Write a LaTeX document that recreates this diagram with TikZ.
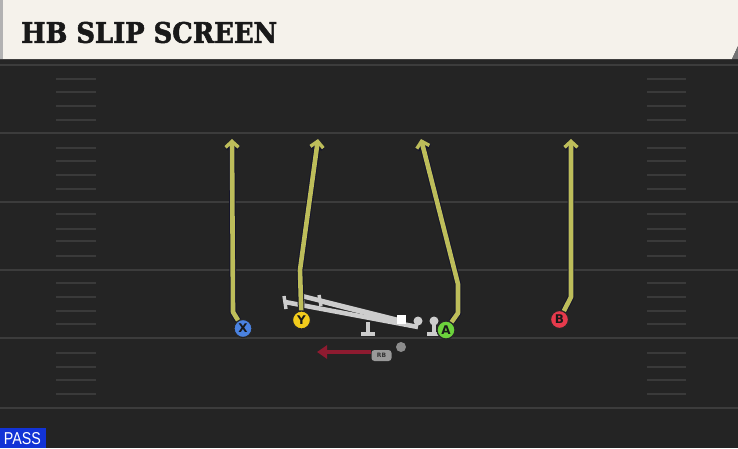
\documentclass[tikz,border=0pt]{standalone}
\usepackage{fontspec}
\setmainfont{DejaVu Serif}
\newfontfamily\titlefont[FakeBold=2]{DejaVu Serif Bold}
\newfontfamily\plfont{DejaVu Sans}
\newfontfamily\passfont{Liberation Sans}
\usetikzlibrary{arrows.meta}
\definecolor{field}{HTML}{242424}
\definecolor{yardline}{HTML}{3C3C3C}
\definecolor{hashc}{HTML}{3A3A3A}
\definecolor{cream}{HTML}{F5F2EB}
\definecolor{routec}{HTML}{BDBD5A}
\definecolor{routeo}{HTML}{15152A}
\definecolor{xblue}{HTML}{4A82E0}
\definecolor{yyel}{HTML}{F2CC1C}
\definecolor{agreen}{HTML}{6CD23C}
\definecolor{bred}{HTML}{E63A4C}
\definecolor{olgray}{HTML}{CDCDCD}
\definecolor{rbred}{HTML}{8E1B30}
\definecolor{passblue}{HTML}{1233D6}
\tikzset{
  player/.style={circle,draw=black!85,line width=1.2pt,minimum size=18pt,inner sep=0pt,font=\plfont\bfseries\fontsize{12}{12}\selectfont,text=black!90},
  route/.style={routec,line width=4.6pt,line join=round,
    -{Straight Barb[length=6pt,width=13pt,line width=3.4pt]},
    preaction={draw=routeo,line width=6.6pt,-{Straight Barb[length=6pt,width=13pt,line width=5.2pt]}}},
  yard/.style={yardline,line width=2pt},
  hashm/.style={hashc,line width=1.6pt},
  ol/.style={olgray,line width=4.6pt,line cap=butt},
  olt/.style={olgray,line width=3.4pt},
}
\begin{document}
\begin{tikzpicture}[x=1pt,y=-1pt]
\useasboundingbox (0,0) rectangle (738,448);
\fill[field] (0,0) rectangle (738,448);
% header
\fill[black!85] (0,59) rectangle (738,64);
\draw[yardline,line width=1.5pt] (0,65) -- (738,65);
\fill[cream] (0,0) -- (738,0) -- (738,46) -- (732,59) -- (0,59) -- cycle;
\fill[black!55] (738,46) -- (738,59) -- (732,59) -- cycle;
\fill[black!30] (0,0) rectangle (3,59);
\node[anchor=west,inner sep=0pt,text=black!90] (title) at (21,32.5) {\resizebox{256pt}{21pt}{\titlefont HB SLIP SCREEN}};
% yard lines
\foreach \yy in {133,202,270,338,408} \draw[yard] (0,\yy) -- (738,\yy);
% hash marks
\foreach \yy in {79,92,106,120,148,161,175,189,214,229,241,256,283,297,311,324,353,367,380,394}{
  \draw[hashm] (56,\yy) -- (96,\yy);
  \draw[hashm] (647,\yy) -- (686,\yy);
}
% offensive line (skewed)
\draw[ol] (285,302) -- (418,327);
\draw[ol] (302,296) -- (402,321);
\draw[ol] (320,301) -- (386,318);
\draw[olt] (284,296) -- (286,309);
\draw[olt] (301,291) -- (303,303);
\draw[olt] (319,295) -- (321,306);
\fill[olgray] (298,324) circle (4pt);
\fill[olgray] (385,319) circle (4pt);
\fill[olgray] (418,321) circle (4.5pt);
\node[fill=white,minimum size=9pt,inner sep=0pt] (center) at (401,319) {};
\draw[olt] (368,322) -- (368,333);
\draw[olgray,line width=4pt] (361,333.5) -- (375,333.5);
\fill[olgray] (434,321) circle (4.5pt);
\draw[olt] (434,322) -- (434,333);
\draw[olgray,line width=4pt] (427,333.5) -- (441,333.5);
% players
\node[player,fill=xblue] (X) at (243,328.5) {X};
\node[player,fill=yyel] (Y) at (301.5,320) {Y};
\node[player,fill=agreen] (A) at (446,330) {A};
\node[player,fill=bred] (B) at (559.5,319.5) {B};
% routes
\coordinate (xtip) at (232,139);
\coordinate (ytip) at (318,139);
\coordinate (atip) at (421,139);
\coordinate (btip) at (571,139);
\draw[route] (X) -- (233,312) -- (xtip);
\draw[route] (Y) -- (300,270) -- (ytip);
\draw[route] (A) -- (458,313) -- (458,284) -- (atip);
\draw[route] (B) -- (571,297) -- (btip);
% running back
\node[fill=black!40,rounded corners=3pt,minimum width=20pt,minimum height=11pt,inner sep=0pt,font=\plfont\bfseries\fontsize{6}{6}\selectfont,text=black!80] (RB) at (381.5,355.5) {RB};
\node[circle,fill=black!45,minimum size=10pt,inner sep=0pt] (rbdot) at (401,347) {};
\coordinate (rbend) at (317,352);
\draw[rbred,line width=4.4pt,-{Triangle[length=10pt,width=13pt]}] (RB.west |- 0,352) -- (rbend);
% pass label
\fill[passblue] (0,428) rectangle (46,448);
\node[inner sep=0pt,text=white] (pass) at (22.5,439) {\resizebox{37pt}{12pt}{\passfont PASS}};
\end{tikzpicture}
\end{document}
